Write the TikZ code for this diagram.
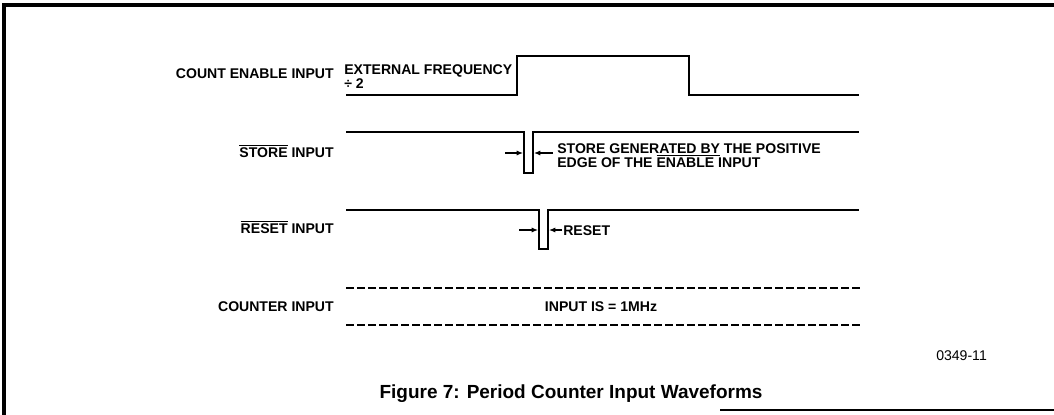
\documentclass[tikz,border=0pt]{standalone}
\usepackage{fontspec}
\setmainfont{Liberation Sans}
\usetikzlibrary{arrows.meta,positioning}
\newcommand{\barsig}[1]{$\overline{\mbox{#1}}$}

\begin{document}
\begin{tikzpicture}[x=0.025cm, y=-0.025cm,
    wave/.style={line width=1.3pt, line join=miter},
    dashwave/.style={line width=1.3pt, dash pattern=on 0.2cm off 0.075cm},
    lbl/.style={font=\bfseries\fontsize{10}{11}\selectfont, inner sep=0pt},
    caption/.style={font=\bfseries\fontsize{13.5}{15}\selectfont, inner sep=0pt},
    dimarrow/.style={line width=0.8pt, -{Latex[length=4.5pt,width=3.6pt]}}]
    \useasboundingbox (0,0) rectangle (1054,415);

    % Frame
    \draw[line width=2.5pt] (4,415) -- (4,5) -- (1054,5);
    \draw[line width=1pt] (720,410) -- (1054,410);

    % Signal names
    \node[lbl, anchor=base east] (cen) at (334,78)  {COUNT ENABLE INPUT};
    \node[lbl, anchor=base east] (sto) at (334,157) {\barsig{STORE} INPUT};
    \node[lbl, anchor=base east] (rst) at (334,233) {\barsig{RESET} INPUT};
    \node[lbl, anchor=base east] (cnt) at (334,311) {COUNTER INPUT};

    % Count enable: external frequency / 2
    \draw[wave] (346,95) -- (517,95) -- (517,56) -- (689,56) -- (689,95) -- (859,95);
    \node[lbl, anchor=base west] (ext) at (344,74) {EXTERNAL FREQUENCY};
    \node[lbl, anchor=base west] (div) at (344,88) {÷ 2};

    % Store pulse
    \draw[wave] (346,132) -- (524,132) -- (524,173) -- (533,173) -- (533,132) -- (859,132);
    \coordinate (stoL) at (523,153);
    \coordinate (stoR) at (534,153);
    \coordinate (stoLt) at (505,153);
    \coordinate (stoRt) at (553,153);
    \draw[dimarrow] (stoLt) -- (stoL);
    \draw[dimarrow] (stoRt) -- (stoR);
    \node[lbl, anchor=base west] (stonote) at (557,153) {STORE GENER\underline{ATED BY} THE POSITIVE};
    \node[lbl, anchor=base west] (stonote2) at (557,167) {EDGE OF THE \barsig{ENABLE} INPUT};

    % Reset pulse
    \draw[wave] (346,210) -- (539,210) -- (539,249) -- (548,249) -- (548,210) -- (859,210);
    \coordinate (rstL) at (538,230);
    \coordinate (rstR) at (549,230);
    \coordinate (rstLt) at (519,230);
    \coordinate (rstRt) at (562,230);
    \draw[dimarrow] (rstLt) -- (rstL);
    \draw[dimarrow] (rstRt) -- (rstR);
    \node[lbl, anchor=base west] (rstnote) at (563,235) {RESET};

    % Counter input
    \draw[dashwave] (346,288) -- (861,288);
    \draw[dashwave] (346,325) -- (861,325);
    \node[lbl, anchor=base] (freq) at (601,311) {INPUT IS = 1MHz};

    % Caption
    \node[font=\fontsize{10}{11}\selectfont, inner sep=0pt, anchor=base west] (fig) at (936,360) {0349-11};
    \node[caption, anchor=base] (title) at (571,398) {Figure 7: Period Counter Input Waveforms};
\end{tikzpicture}
\end{document}
